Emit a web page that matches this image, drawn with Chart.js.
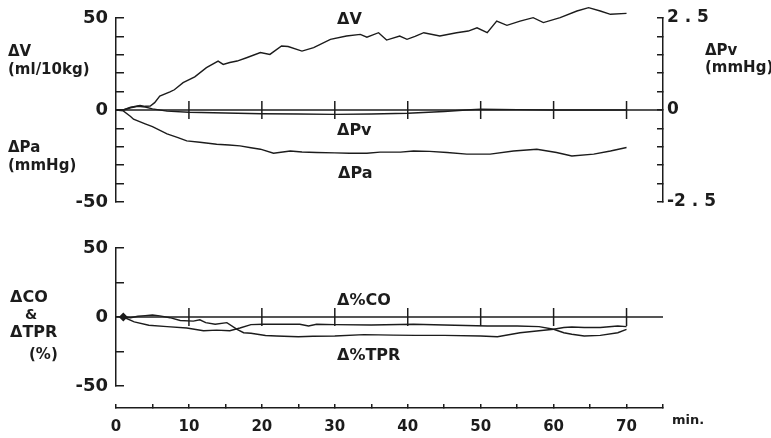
<!DOCTYPE html>
<html>
<head>
<meta charset="utf-8">
<script src="https://cdn.jsdelivr.net/npm/chart.js@4"></script>
<style>
  html, body { margin: 0; padding: 0; background: #fff; }
  #wrap { width: 771px; height: 438px; }
</style>
</head>
<body>
<div id="wrap"><canvas id="chart" width="771" height="438"></canvas></div>
<script>
// time axis (min)
const timeTicks = [0, 5, 10, 15, 20, 25, 30, 35, 40, 45, 50, 55, 60, 65, 70, 75];
const timeLabelled = [0, 10, 20, 30, 40, 50, 60, 70];
const markTimes = [10, 20, 30, 40, 50, 60, 70];
const baseTimes = [0, 75];

// left axis, top panel (ΔV ml/10kg and ΔPa mmHg)
const topTicks = [-50, -40, -30, -20, -10, 0, 10, 20, 30, 40, 50];
const topLabelled = [50, 0, -50];
// right axis, top panel (ΔPv mmHg)
const pvTicks = [-2.5, -2, -1.5, -1, -0.5, 0, 0.5, 1, 1.5, 2, 2.5];
const pvLabelValues = [2.5, 0, -2.5];
const pvLabelTexts = ['2 . 5', '0', '-2 . 5'];
// left axis, bottom panel (%)
const pctTicks = [-50, -25, 0, 25, 50];
const pctLabelled = [50, 0, -50];

// ΔV
const vTime = [0, 1, 2, 2.4, 3.3, 4, 4.7, 5.3, 6, 7.4, 8, 9.2, 10.8, 12.4, 14, 14.7, 15.6, 16.6, 17.9, 19.8,
  21.1, 22.7, 23.6, 25.5, 27.1, 29.4, 31.6, 33.5, 34.4, 36, 37.1, 38.9, 39.9, 41, 42.2, 44.4, 46.7, 48.3,
  49.5, 50.9, 52.2, 53.6, 55.4, 57.2, 58.6, 60.9, 63.2, 64.8, 66.4, 67.8, 70];
const vValue = [0, 0, 1.5, 1.8, 2.5, 2, 2.2, 4, 7.6, 9.8, 11, 14.9, 18, 23, 26.6, 24.8, 25.8, 26.6, 28.4, 31.2,
  30.2, 34.8, 34.5, 32, 33.9, 38.4, 40.2, 41.1, 39.6, 42, 38, 40.2, 38.4, 40, 42, 40.2, 42, 42.9,
  44.7, 42, 48.3, 46, 48.3, 50.2, 47.5, 50.2, 53.8, 55.6, 53.8, 52, 52.5];

// ΔPa
const paTime = [0, 1, 2, 2.4, 4, 5, 7, 8.5, 9.7, 11.5, 13.8, 15.5, 17, 18.5, 19.8, 21.6, 23.9, 25.5, 27.5, 30,
  32, 34.4, 36.2, 39, 40.8, 43, 45.4, 48.1, 51.3, 54.5, 57.7, 60.4, 62.5, 65.5, 67.8, 70];
const paValue = [0, -0.5, -3.5, -5, -7.5, -9, -13, -15, -16.8, -17.5, -18.6, -19, -19.5, -20.5, -21.3, -23.5, -22.3, -22.8, -23.1, -23.3,
  -23.5, -23.5, -22.9, -22.9, -22.3, -22.5, -23.1, -24, -24, -22.3, -21.3, -23.1, -25, -24, -22.3, -20.4];

// ΔPv
const pvTime = [0, 1, 2, 3, 4, 5, 7, 10, 15, 20, 25, 30, 35, 40, 45, 48, 50, 55, 60, 65, 70];
const pvValue = [0, 0, 0.06, 0.1, 0.08, 0.03, -0.03, -0.06, -0.08, -0.1, -0.11, -0.12, -0.11, -0.09, -0.04, 0, 0.02, 0.01, 0, 0, 0];

// Δ%CO
const coTime = [1, 2.5, 4.5, 7, 9.7, 12, 13.8, 15.6, 17, 18.5, 20.2, 23, 25.2, 26.4, 27.5, 30, 35, 40.8, 45,
  50.9, 55, 58, 60, 61.4, 62.5, 64.2, 66.4, 68.8, 70];
const coValue = [0, -3.5, -6, -7, -8, -10, -9.5, -10, -8, -5.5, -5.3, -5.3, -5.3, -6.5, -5.3, -5.5, -5.8, -5.3, -5.8,
  -6.5, -6.5, -7, -8.9, -11.4, -12.5, -13.8, -13.3, -11.4, -9];

// Δ%TPR
const tprTime = [1, 2, 3, 4, 5, 6, 7.4, 8.8, 10.6, 11.5, 12.3, 13.6, 15.2, 16.6, 17.5, 18.5, 20.5, 22, 25, 27,
  30, 34, 38, 41, 45, 50, 52.3, 55.4, 58, 60, 61.4, 62.5, 64.2, 66.4, 68.8, 70];
const tprValue = [0, -0.5, 0.5, 1, 1.4, 0.8, -0.5, -2.5, -3, -2, -4.1, -5.3, -4.1, -8.9, -11.4, -11.8, -13.4, -13.8, -14.3, -14,
  -13.8, -12.8, -13.1, -13.3, -13.3, -13.8, -14.3, -11.4, -10, -8.9, -7.6, -7.3, -7.6, -7.6, -6.5, -7];

const ink = '#1c1c1c';
const FONT = "'DejaVu Sans', sans-serif";
const font = (size) => ({ family: FONT, size: size, weight: 'bold' });
const pts = (t, v) => t.map((x, i) => ({ x: x, y: v[i] }));
const flat = (t) => t.map(x => ({ x: x, y: 0 }));
const setTicks = (arr) => (s) => { s.ticks = arr.map(value => ({ value })); };

function trace(data, axis) {
  return {
    data: data, yAxisID: axis, borderColor: ink, borderWidth: 1.4,
    pointRadius: 0, tension: 0, fill: false, clip: false
  };
}

function marks(axis) {
  return {
    data: flat(markTimes), yAxisID: axis, showLine: false,
    pointStyle: 'line', rotation: 90, pointRadius: 9,
    borderColor: ink, pointBorderWidth: 1.5, pointBorderColor: ink
  };
}

const labels = [
  // curve labels
  { t: 'ΔV', x: 337, y: 20, s: 16 },
  { t: 'ΔPv', x: 337, y: 131, s: 16 },
  { t: 'ΔPa', x: 338, y: 174, s: 16 },
  { t: 'Δ%CO', x: 337, y: 301, s: 16 },
  { t: 'Δ%TPR', x: 337, y: 356, s: 16 },
  // axis titles
  { t: 'ΔV', x: 8, y: 52, s: 15 },
  { t: '(ml/10kg)', x: 8, y: 70, s: 15 },
  { t: 'ΔPa', x: 8, y: 148, s: 15 },
  { t: '(mmHg)', x: 8, y: 166, s: 15 },
  { t: 'ΔPv', x: 705, y: 51, s: 15 },
  { t: '(mmHg)', x: 705, y: 68, s: 15 },
  { t: 'ΔCO', x: 10, y: 298, s: 16 },
  { t: '&', x: 25, y: 315, s: 14 },
  { t: 'ΔTPR', x: 10, y: 333, s: 16 },
  { t: '(%)', x: 29, y: 355, s: 15 },
  { t: 'min.', x: 672, y: 421, s: 13 }
];

const textPlugin = {
  id: 'texts',
  afterDraw(chart) {
    const ctx = chart.ctx;
    ctx.save();
    ctx.fillStyle = ink;
    ctx.textBaseline = 'middle';
    ctx.textAlign = 'left';
    labels.forEach(l => {
      ctx.font = 'bold ' + l.s + 'px ' + FONT;
      ctx.fillText(l.t, l.x, l.y);
    });
    ctx.restore();
  }
};

// fixed axis widths, and no extra label padding above/below the stacks
const leftW = s => { s.width = 116; s.paddingTop = 0; s.paddingBottom = 0; };
const rightW = s => { s.width = 108; s.paddingTop = 0; s.paddingBottom = 0; };

new Chart(document.getElementById('chart'), {
  type: 'line',
  data: {
    datasets: [
      trace(pts(baseTimes, [0, 0]), 'yTop'),
      marks('yTop'),
      trace(pts(vTime, vValue), 'yTop'),
      trace(pts(paTime, paValue), 'yTop'),
      trace(pts(pvTime, pvValue), 'yTopR'),
      trace(pts(baseTimes, [0, 0]), 'yBot'),
      marks('yBot'),
      Object.assign(trace(pts(coTime, coValue), 'yBot'), {
        pointRadius: c => c.dataIndex === 0 ? 3.5 : 0,
        pointStyle: 'rectRot', pointBackgroundColor: ink
      }),
      trace(pts(tprTime, tprValue), 'yBot')
    ]
  },
  options: {
    responsive: false,
    animation: false,
    events: [],
    layout: { padding: { top: 18, left: 0, right: 0, bottom: 0 } },
    plugins: { legend: { display: false }, tooltip: { enabled: false } },
    scales: {
      x: {
        type: 'linear', position: 'bottom', min: 0, max: 75,
        afterFit: s => { s.height = 30; },
        afterBuildTicks: setTicks(timeTicks),
        ticks: {
          callback: v => timeLabelled.includes(v) ? String(v) : '',
          font: font(15), color: ink, padding: 14, maxRotation: 0, autoSkip: false
        },
        grid: { drawOnChartArea: false, tickLength: -4, color: ink, lineWidth: 1.5 },
        border: { color: ink, width: 1.5 }
      },
      yTop: {
        type: 'linear', position: 'left', stack: 'L', stackWeight: 184, weight: 4,
        min: -50, max: 50, afterFit: leftW,
        afterBuildTicks: setTicks(topTicks),
        ticks: {
          callback: v => topLabelled.includes(v) ? String(v) : '',
          font: font(18), color: ink, padding: 16, autoSkip: false
        },
        grid: { drawOnChartArea: false, tickLength: -8, color: ink, lineWidth: 1.5 },
        border: { color: ink, width: 1.5 }
      },
      gapA: {
        type: 'linear', position: 'left', stack: 'L', stackWeight: 46, weight: 3,
        min: 0, max: 1, display: false, afterFit: leftW
      },
      yBot: {
        type: 'linear', position: 'left', stack: 'L', stackWeight: 138, weight: 2,
        min: -50, max: 50, afterFit: leftW,
        afterBuildTicks: setTicks(pctTicks),
        ticks: {
          callback: v => pctLabelled.includes(v) ? String(v) : '',
          font: font(18), color: ink, padding: 16, autoSkip: false
        },
        grid: { drawOnChartArea: false, tickLength: -8, color: ink, lineWidth: 1.5 },
        border: { color: ink, width: 1.5 }
      },
      gapB: {
        type: 'linear', position: 'left', stack: 'L', stackWeight: 22, weight: 1,
        min: 0, max: 1, display: false, afterFit: leftW
      },
      yTopR: {
        type: 'linear', position: 'right', stack: 'R', stackWeight: 184, weight: 1,
        min: -2.5, max: 2.5, afterFit: rightW,
        afterBuildTicks: setTicks(pvTicks),
        ticks: {
          callback: v => {
            const i = pvLabelValues.indexOf(v);
            return i >= 0 ? pvLabelTexts[i] : '';
          },
          font: font(17), color: ink, padding: 10, autoSkip: false
        },
        grid: { drawOnChartArea: false, tickLength: -6, color: ink, lineWidth: 1.5 },
        border: { color: ink, width: 1.5 }
      },
      gapR: {
        type: 'linear', position: 'right', stack: 'R', stackWeight: 206, weight: 2,
        min: 0, max: 1, display: false, afterFit: rightW
      }
    }
  },
  plugins: [textPlugin]
});
</script>
</body>
</html>
